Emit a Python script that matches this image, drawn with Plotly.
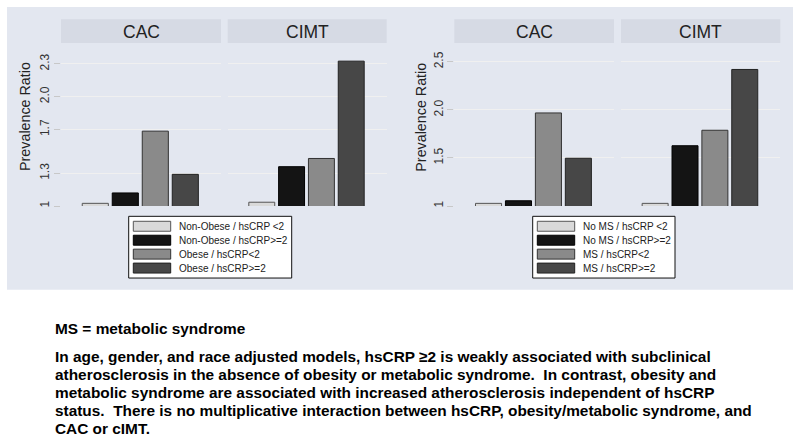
import plotly.graph_objects as go

# ---------------- data ----------------
outcomes = ["CAC", "CIMT"]
groups_obesity = ["Non-Obese / hsCRP <2", "Non-Obese / hsCRP>=2", "Obese / hsCRP<2", "Obese / hsCRP>=2"]
groups_ms = ["No MS / hsCRP <2", "No MS / hsCRP>=2", "MS / hsCRP<2", "MS / hsCRP>=2"]
pr_obesity_cac = [1.025, 1.12, 1.685, 1.29]
pr_obesity_cimt = [1.035, 1.36, 1.435, 2.325]
pr_ms_cac = [1.028, 1.055, 1.968, 1.497]
pr_ms_cimt = [1.028, 1.627, 1.788, 2.42]
ticks_obesity = [1, 1.3, 1.7, 2.0, 2.3]
ticklabels_obesity = ["1", "1.3", "1.7", "2.0", "2.3"]
ticks_ms = [1, 1.5, 2.0, 2.5]
ticklabels_ms = ["1", "1.5", "2.0", "2.5"]
y_title = "Prevalence Ratio"
note_title = "MS = metabolic syndrome"
note_lines = [
    "In age, gender, and race adjusted models, hsCRP \u22652 is weakly associated with subclinical",
    "atherosclerosis in the absence of obesity or metabolic syndrome.\u00a0 In contrast, obesity and",
    "metabolic syndrome are associated with increased atherosclerosis independent of hsCRP",
    "status.\u00a0 There is no multiplicative interaction between hsCRP, obesity/metabolic syndrome, and",
    "CAC or cIMT.",
]

# ---------------- styling ----------------
W, H = 800, 442
bar_colors = ["#d9d9d9", "#141414", "#8a8a8a", "#474747"]
bar_lines = ["#555555", "#000000", "#333333", "#222222"]
bg_col = "#e3e7f0"
strip_col = "#d6dae4"
txt_col = "#222222"
FONT = "Liberation Sans, Arial, sans-serif"


def px(x):
    return x / W


def py(y):
    return 1 - y / H


fig = go.Figure()

panels = [
    dict(x0=61, x1=221, vals=pr_obesity_cac, groups=groups_obesity,
         ticks=ticks_obesity, labels=ticklabels_obesity, ymax=2.49, showticks=True, title=outcomes[0]),
    dict(x0=227.7, x1=386.7, vals=pr_obesity_cimt, groups=groups_obesity,
         ticks=ticks_obesity, labels=ticklabels_obesity, ymax=2.49, showticks=False, title=outcomes[1]),
    dict(x0=454.3, x1=614, vals=pr_ms_cac, groups=groups_ms,
         ticks=ticks_ms, labels=ticklabels_ms, ymax=2.694, showticks=True, title=outcomes[0]),
    dict(x0=621, x1=780.3, vals=pr_ms_cimt, groups=groups_ms,
         ticks=ticks_ms, labels=ticklabels_ms, ymax=2.694, showticks=False, title=outcomes[1]),
]
plot_top, plot_bot = 43.3, 207
strip_top = 19.3

shapes = []
annotations = []

shapes.append(dict(type="rect", xref="paper", yref="paper", x0=px(7), x1=px(793), y0=py(291), y1=py(7),
                   fillcolor=bg_col, line=dict(width=0), layer="below"))

layout_axes = {}
for i, p in enumerate(panels):
    n = i + 1
    xa = "x" if n == 1 else f"x{n}"
    ya = "y" if n == 1 else f"y{n}"
    for k, (g, v) in enumerate(zip(p["groups"], p["vals"])):
        fig.add_trace(go.Bar(
            x=[k], y=[v], name=g, xaxis=xa, yaxis=ya, width=0.87,
            marker=dict(color=bar_colors[k], line=dict(color=bar_lines[k], width=1)),
            showlegend=False,
        ))
    layout_axes[f"xaxis{'' if n == 1 else n}"] = dict(
        domain=[px(p["x0"]), px(p["x1"])], anchor=ya, range=[-1.143, 4.19],
        showticklabels=False, showgrid=False, zeroline=False, ticks="", showline=False, fixedrange=True)
    layout_axes[f"yaxis{'' if n == 1 else n}"] = dict(
        domain=[py(plot_bot), py(plot_top)], anchor=xa, range=[1, p["ymax"]],
        tickvals=p["ticks"], ticktext=p["labels"], showticklabels=p["showticks"],
        ticks="outside" if p["showticks"] else "", ticklen=6, tickcolor="#c8c8c8",
        tickangle=-90, tickfont=dict(family=FONT, size=12, color="#333333"),
        showgrid=True, gridcolor="#f0f0f0", gridwidth=1, zeroline=False, showline=False, fixedrange=True)
    shapes.append(dict(type="rect", xref="paper", yref="paper", x0=px(p["x0"]), x1=px(p["x1"]),
                       y0=py(plot_top), y1=py(strip_top), fillcolor=strip_col, line=dict(width=0)))
    annotations.append(dict(xref="paper", yref="paper", x=px((p["x0"] + p["x1"]) / 2), y=py(32.5),
                            text=p["title"], showarrow=False, xanchor="center", yanchor="middle",
                            font=dict(family=FONT, size=17.5, color=txt_col)))

for xc in (25, 420.7):
    annotations.append(dict(xref="paper", yref="paper", x=px(xc), y=py(117.5), text=y_title,
                            textangle=-90, showarrow=False, xanchor="center", yanchor="middle",
                            font=dict(family=FONT, size=14.3, color=txt_col)))

legend_specs = [
    dict(bx0=128.7, bx1=291.7, sx0=133.3, sx1=170.7, tx=176.7, groups=groups_obesity),
    dict(bx0=532.7, bx1=675, sx0=537.3, sx1=574.7, tx=580.7, groups=groups_ms),
]
for L in legend_specs:
    shapes.append(dict(type="rect", xref="paper", yref="paper", x0=px(L["bx0"]), x1=px(L["bx1"]),
                       y0=py(279.3), y1=py(217.3), fillcolor="white", line=dict(color="#111111", width=1)))
    for k, g in enumerate(L["groups"]):
        yc = 227.3 + 14 * k
        shapes.append(dict(type="rect", xref="paper", yref="paper", x0=px(L["sx0"]), x1=px(L["sx1"]),
                           y0=py(yc + 5), y1=py(yc - 5), fillcolor=bar_colors[k],
                           line=dict(color=bar_lines[k], width=1)))
        annotations.append(dict(xref="paper", yref="paper", x=px(L["tx"]), y=py(yc), text=g,
                                showarrow=False, xanchor="left", yanchor="middle",
                                font=dict(family=FONT, size=10, color=txt_col)))

note_font = dict(family=FONT, size=15.4, color="#000000", weight="bold")
annotations.append(dict(xref="paper", yref="paper", x=px(53), y=py(330), text=note_title, showarrow=False,
                        xanchor="left", yanchor="middle", font=note_font))
for j, line in enumerate(note_lines):
    annotations.append(dict(xref="paper", yref="paper", x=px(53), y=py(358 + 18 * j), text=line,
                            showarrow=False, xanchor="left", yanchor="middle", font=note_font))

fig.update_layout(
    width=W, height=H, margin=dict(l=0, r=0, t=0, b=0),
    paper_bgcolor="white", plot_bgcolor="white",
    barmode="overlay", showlegend=False,
    shapes=shapes, annotations=annotations,
    **layout_axes,
)

fig.write_html("out.html", config={"displayModeBar": False})

# remove the browser's default page margin so the figure sits at the window origin
with open("out.html", "r", encoding="utf-8") as f:
    html = f.read()
html = html.replace("<head>", "<head><style>html,body{margin:0;padding:0;overflow:hidden;}</style>", 1)
with open("out.html", "w", encoding="utf-8") as f:
    f.write(html)
